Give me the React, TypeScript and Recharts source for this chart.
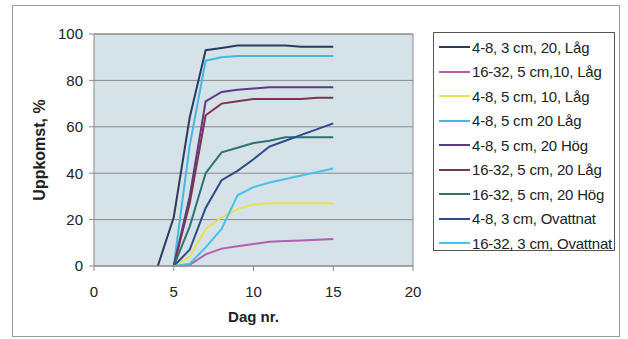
import { LineChart, Line, XAxis, YAxis, CartesianGrid, Legend, ReferenceLine } from 'recharts'

// days after sowing
const days = [4, 5, 6, 7, 8, 9, 10, 11, 12, 13, 14, 15]

// emergence in % per treatment
const s48_3cm_20_lag = [0, 21, 64, 93, 94, 95, 95, 95, 95, 94.5, 94.5, 94.5]
const s1632_5cm_10_lag = [null, 0, 0.5, 5, 7.5, 8.5, 9.5, 10.5, 10.8, 11, 11.3, 11.6]
const s48_5cm_10_lag = [null, 0, 4, 16, 21, 24.5, 26.5, 27, 27, 27, 27, 27]
const s48_5cm_20_lag = [null, 0, 52, 88.5, 90, 90.5, 90.5, 90.5, 90.5, 90.5, 90.5, 90.5]
const s48_5cm_20_hog = [null, 0, 30, 71, 75, 76, 76.5, 77, 77, 77, 77, 77]
const s1632_5cm_20_lag = [null, 0, 27, 65, 70, 71, 72, 72, 72, 72, 72.5, 72.5]
const s1632_5cm_20_hog = [null, 0, 17, 40, 49, 51, 53, 54, 55.5, 55.5, 55.5, 55.5]
const s48_3cm_ovattnat = [null, 0, 7, 25, 37, 41, 46, 51.5, 54, 56.5, 59, 61.5]
const s1632_3cm_ovattnat = [null, 0, 1, 8, 16, 30.5, 34, 36, 37.5, 39, 40.5, 42]

const xTicks = [0, 5, 10, 15, 20]
const yTicks = [0, 20, 40, 60, 80, 100]

const series = [
  { key: 'a', name: '4-8, 3 cm, 20, Låg', values: s48_3cm_20_lag, color: '#2c3a5e' },
  { key: 'b', name: '16-32, 5 cm,10, Låg', values: s1632_5cm_10_lag, color: '#b45fae' },
  { key: 'c', name: '4-8, 5 cm, 10, Låg', values: s48_5cm_10_lag, color: '#e6e052' },
  { key: 'd', name: '4-8, 5 cm 20 Låg', values: s48_5cm_20_lag, color: '#42b8e2' },
  { key: 'e', name: '4-8, 5 cm, 20 Hög', values: s48_5cm_20_hog, color: '#5a3c82' },
  { key: 'f', name: '16-32, 5 cm, 20 Låg', values: s1632_5cm_20_lag, color: '#7c3450' },
  { key: 'g', name: '16-32, 5 cm, 20 Hög', values: s1632_5cm_20_hog, color: '#2f7272' },
  { key: 'h', name: '4-8, 3 cm, Ovattnat', values: s48_3cm_ovattnat, color: '#2e4a8c' },
  { key: 'i', name: '16-32, 3 cm, Ovattnat', values: s1632_3cm_ovattnat, color: '#48c2ea' },
]

const data = days.map((day, i) => {
  const row: Record<string, number | null> = { day }
  series.forEach((s) => { row[s.key] = s.values[i] })
  return row
})

const font = '"Liberation Sans", Arial, sans-serif'
const tickStyle = { fontSize: 15, fill: '#222', fontFamily: font }

const LegendBox = () => (
  <div
    style={{
      border: '1px solid #555',
      background: '#fff',
      width: 182,
      height: 219,
      boxSizing: 'border-box',
      paddingTop: 2,
      fontFamily: font,
      fontSize: 15,
      color: '#222',
    }}
  >
    {series.map((s) => (
      <div key={s.key} style={{ display: 'flex', alignItems: 'center', height: 24.5, whiteSpace: 'nowrap' }}>
        <span style={{ width: 31, height: 2, background: s.color, marginLeft: 5, marginRight: 2 }} />
        <span style={{ letterSpacing: -0.2 }}>{s.name}</span>
      </div>
    ))}
  </div>
)

export default function App() {
  return (
    <div style={{ position: 'fixed', left: 0, top: 0, width: 628, height: 339, background: '#fff' }}>
      <div
        style={{
          position: 'absolute',
          left: 12,
          top: 5,
          width: 608,
          height: 332,
          border: '1px solid #9a9a9a',
          boxSizing: 'border-box',
        }}
      />
      <div style={{ position: 'absolute', left: 0, top: 0 }}>
        <LineChart width={628} height={339} data={data} margin={{ top: 34, right: 215, bottom: 15, left: 34 }}>
          <CartesianGrid horizontal vertical={false} stroke="#8a8a8a" fill="#d5e2e8" />
          <XAxis
            dataKey="day"
            type="number"
            domain={[0, 20]}
            ticks={xTicks}
            height={58}
            stroke="#8a8a8a"
            tickSize={5}
            tickMargin={15}
            tick={tickStyle}
            label={{ value: 'Dag nr.', position: 'insideBottom', offset: 2, style: { fontSize: 15, fontWeight: 'bold', fill: '#222', fontFamily: font } }}
          />
          <YAxis
            type="number"
            domain={[0, 100]}
            ticks={yTicks}
            width={60}
            stroke="#8a8a8a"
            tickSize={5}
            tickMargin={6}
            tick={tickStyle}
            label={{ value: 'Uppkomst, %', angle: -90, position: 'insideLeft', offset: 0, dx: 5, style: { fontSize: 16, fontWeight: 'bold', fill: '#222', fontFamily: font, textAnchor: 'middle' } }}
          />
          <ReferenceLine x={20} stroke="#8a8a8a" />
          <ReferenceLine y={100} stroke="#8a8a8a" />
          <Legend
            layout="vertical"
            verticalAlign="middle"
            align="center"
            content={<LegendBox />}
            wrapperStyle={{ position: 'absolute', left: 433, top: 32, width: 182 }}
          />
          {series.map((s) => (
            <Line
              key={s.key}
              name={s.name}
              type="linear"
              dataKey={s.key}
              stroke={s.color}
              strokeWidth={2}
              dot={false}
              activeDot={false}
              connectNulls={false}
              isAnimationActive={false}
            />
          ))}
        </LineChart>
      </div>
    </div>
  )
}
